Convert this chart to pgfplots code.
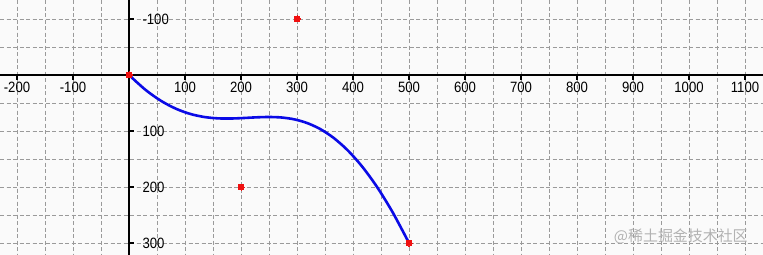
\documentclass[border=0pt]{standalone}
\usepackage{pgfplots}
\pgfplotsset{compat=1.18}
\usepackage{fontspec}
\setmainfont[FakeStretch=0.88]{Liberation Sans}
\newfontfamily\cjk{Noto Sans CJK SC}
\definecolor{gridgray}{HTML}{9A9A9A}
\definecolor{bg}{HTML}{FAFAFA}
\definecolor{curveblue}{HTML}{0A0AE6}
\definecolor{dotred}{HTML}{F01010}
\begin{document}
\begin{tikzpicture}
\begin{axis}[
  scale only axis, width=763bp, height=255bp,
  xmin=-230.4, xmax=1132.1, ymin=-133.9, ymax=321.4,
  y dir=reverse,
  axis lines=middle,
  axis line style={line width=2.2bp, black, -},
  xtick={-200,-100,100,200,...,1100},
  ytick={-100,100,200,300},
  minor xtick={-200,-150,...,1100},
  minor ytick={-100,-50,...,300},
  grid=both,
  grid style={gridgray, line width=0.8bp, dash pattern=on 4bp off 2.5bp},
  major tick length=5bp, minor tick length=0pt,
  tick style={black, line width=2bp},
  tick align=inside,
  /pgf/number format/assume math mode=true,
  /pgf/number format/1000 sep={},
  ticklabel style={font=\fontsize{15}{17}\selectfont},
  xticklabel style={anchor=north, yshift=-4bp},
  yticklabel style={anchor=west, xshift=10bp},
  axis background/.style={fill=bg},
]
\coordinate (bl) at (rel axis cs:0,0);
\coordinate (tr) at (rel axis cs:1,1);
\addplot[curveblue, line width=2.6bp, smooth] coordinates {
(0,0) (29.275,26.4) (57.2,46.2) (83.925,60.3) (109.6,69.6) (134.375,75.0)
(158.4,77.4) (181.825,77.7) (204.8,76.8) (227.475,75.6) (250,75)
(272.525,75.9) (295.2,79.2) (318.175,85.8) (341.6,96.6) (365.625,112.5)
(390.4,134.4) (416.075,163.2) (442.8,199.8) (470.725,245.1) (500,300)
};
\addplot[only marks, mark=*, mark size=3bp, dotred, mark options={draw=dotred, fill=dotred, line width=0pt}] coordinates {
(0,0) (200,200) (300,-100) (500,300)
};
\node[anchor=east, text=black!30, font=\cjk\fontsize{15}{17}\selectfont] at (axis cs:1111,289) {@稀土掘金技术社区};
\end{axis}
\pgfresetboundingbox
\path (bl) rectangle (tr);
\end{tikzpicture}
\end{document}
